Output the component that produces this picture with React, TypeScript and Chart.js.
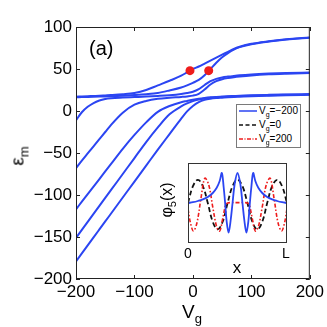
import React, { useEffect, useRef } from "react";
import { Chart, registerables } from "chart.js";

Chart.register(...registerables);

const FONT = '"Liberation Sans", Arial, Helvetica, sans-serif';

// Gate voltage grid (x values) shared by all energy levels
const vgGrid = [-200, -190, -180, -170, -160, -150, -140, -120, -100, -80, -60, -40, -20, -10, 0, 10, 20, 30, 40, 50, 60, 70, 80, 100, 130, 160, 200];

// Energy levels eps_m(Vg)
const levelA = [17, 17.3, 17.6, 17.9, 18.2, 18.6, 19, 20, 21.5, 25, 30.5, 36, 42, 46, 50, 53, 56.5, 60, 63.5, 67, 70.5, 74, 76.5, 80, 83, 85.3, 87.6];
const levelB = [16.4, 16.6, 16.8, 17.0, 17.2, 17.4, 17.6, 18.2, 19, 20, 21.5, 24.5, 28, 30.5, 33.5, 37, 42.5, 50, 57.5, 64, 69, 73, 76, 79.5, 82.6, 85, 87.2];
const levelC = [-11, -1.5, 5, 9.5, 12.5, 14.3, 15.2, 16, 16.6, 17.2, 17.9, 18.8, 20.3, 21.5, 23, 26, 31, 35.5, 38.3, 40, 41, 41.8, 42.5, 43.5, 44.5, 45.2, 45.9];
const levelD = [-68, -59, -50.5, -42, -33.5, -25, -16.5, -2, 7.5, 12, 14.5, 15.8, 16.8, 17.4, 18.3, 20.5, 25.5, 31.5, 35.5, 37.8, 39.2, 40.2, 41, 42.3, 43.6, 44.4, 45.2];
const levelE = [-117, -108, -99, -90, -81, -72, -63, -45, -28.5, -13.5, -1, 6, 10.5, 12, 13.5, 14.7, 15.6, 16.3, 16.8, 17.2, 17.6, 17.9, 18.2, 18.7, 19.2, 19.6, 20.1];
const levelF = [-151, -141.5, -132, -122.5, -113, -103.5, -94, -75, -56, -37, -19.5, -4, 5.5, 9, 11.8, 13.6, 14.9, 15.7, 16.3, 16.8, 17.2, 17.5, 17.8, 18.3, 18.8, 19.2, 19.6];
const levelG = [-179, -169.5, -160, -150.5, -141, -131.5, -122, -103, -84, -65, -46, -27.5, -9, -0.5, 6, 10.5, 13.2, 14.6, 15.4, 15.9, 16.4, 16.8, 17.1, 17.7, 18.3, 18.8, 19.2];

// Marked points (red dots)
const dotVg = [-5, 27];
const dotEps = [48, 48];

const xTickValues = [-200, -100, 0, 100, 200];
const yTickValues = [-200, -150, -100, -50, 0, 50, 100];

// Inset: phi_5(x), x in [0, L] with L = 1
const blueX = [0, 0.05, 0.1, 0.15, 0.2, 0.25, 0.29, 0.32, 0.342, 0.36, 0.375, 0.39, 0.41, 0.43, 0.45, 0.47, 0.5, 0.53, 0.55, 0.57, 0.59, 0.61, 0.625, 0.64, 0.658, 0.68, 0.71, 0.75, 0.8, 0.85, 0.9, 0.95, 1];
const blueY = [0, 0.02, 0.05, 0.09, 0.15, 0.25, 0.38, 0.55, 0.75, 0.4, 0, -0.45, -0.74, -0.45, 0, 0.45, 0.75, 0.45, 0, -0.45, -0.74, -0.45, 0, 0.4, 0.75, 0.55, 0.38, 0.25, 0.15, 0.09, 0.05, 0.02, 0];
const blackX = [0, 0.05, 0.1, 0.15, 0.2, 0.25, 0.3, 0.35, 0.4, 0.45, 0.5, 0.55, 0.6, 0.65, 0.7, 0.75, 0.8, 0.85, 0.9, 0.95, 1];
const blackY = [0, 0.42, 0.58, 0.42, 0, -0.47, -0.66, -0.47, 0, 0.42, 0.58, 0.42, 0, -0.47, -0.66, -0.47, 0, 0.42, 0.58, 0.42, 0];
const redX = [0, 0.025, 0.055, 0.09, 0.13, 0.17, 0.21, 0.25, 0.29, 0.32, 0.35, 0.38, 0.4, 0.45, 0.5, 0.55, 0.6, 0.62, 0.65, 0.68, 0.71, 0.75, 0.79, 0.83, 0.87, 0.91, 0.945, 0.975, 1];
const redY = [-0.15, -0.5, -0.7, -0.5, 0.1, 0.62, 0.45, -0.1, -0.6, -0.7, -0.4, -0.05, 0, 0.01, 0.01, 0.01, 0, -0.05, -0.4, -0.7, -0.6, -0.1, 0.45, 0.62, 0.1, -0.5, -0.7, -0.5, -0.15];

const legendVg = [-200, 0, 200];

const BLUE = "#2b45f2";
const RED = "#ee1c1c";
const BLACK = "#111111";

function fmt(v: number): string {
  return v < 0 ? "\u2212" + Math.abs(v) : String(v);
}

const frameTicks = {
  id: "frameTicks",
  afterDraw(chart: any, _args: any, opts: any) {
    const { ctx, chartArea: a, scales } = chart;
    ctx.save();
    ctx.strokeStyle = opts.color || "#222";
    ctx.lineWidth = 1;
    ctx.strokeRect(a.left + 0.5, a.top + 0.5, a.right - a.left - 1, a.bottom - a.top - 1);
    if (opts.ticks) {
      const L = 4;
      ctx.beginPath();
      for (const v of opts.xTicks) {
        const p = Math.round(scales.x.getPixelForValue(v)) + 0.5;
        ctx.moveTo(p, a.bottom);
        ctx.lineTo(p, a.bottom - L);
        ctx.moveTo(p, a.top);
        ctx.lineTo(p, a.top + L);
      }
      for (const v of opts.yTicks) {
        const p = Math.round(scales.y.getPixelForValue(v)) + 0.5;
        ctx.moveTo(a.left, p);
        ctx.lineTo(a.left + L, p);
        ctx.moveTo(a.right, p);
        ctx.lineTo(a.right - L, p);
      }
      ctx.stroke();
    }
    ctx.restore();
  },
};

export default function App() {
  const mainRef = useRef<HTMLCanvasElement>(null);
  const insetRef = useRef<HTMLCanvasElement>(null);

  useEffect(() => {
    const levels = [levelA, levelB, levelC, levelD, levelE, levelF, levelG];
    const lineSets = levels.map((arr) => ({
      data: vgGrid.map((x, i) => ({ x, y: arr[i] })),
      showLine: true,
      borderColor: BLUE,
      backgroundColor: BLUE,
      borderWidth: 2,
      pointRadius: 0,
      cubicInterpolationMode: "monotone" as const,
      fill: false,
      order: 1,
    }));
    const main = new Chart(mainRef.current!, {
      type: "scatter",
      data: {
        datasets: [
          {
            data: dotVg.map((x, i) => ({ x, y: dotEps[i] })),
            backgroundColor: RED,
            borderColor: RED,
            pointRadius: 4.5,
            borderWidth: 0,
            order: 0,
          },
          ...lineSets,
        ] as any,
      },
      options: {
        responsive: false,
        animation: false,
        devicePixelRatio: 1,
        events: [],
        layout: { padding: { top: 27, right: 17, left: 0, bottom: 0 } },
        plugins: {
          legend: { display: false },
          tooltip: { enabled: false },
          frameTicks: { ticks: true, xTicks: xTickValues, yTicks: yTickValues, color: "#222" },
        } as any,
        scales: {
          x: {
            type: "linear",
            min: -200,
            max: 200,
            afterBuildTicks: (s: any) => {
              s.ticks = xTickValues.map((value) => ({ value }));
            },
            afterFit: (s: any) => {
              s.height = 48;
            },
            ticks: {
              font: { size: 17, family: FONT },
              color: "#000",
              padding: 3,
              maxRotation: 0,
              autoSkip: false,
              callback: (v: any) => fmt(Number(v)),
            },
            grid: { display: false, drawTicks: false },
            border: { display: false },
          },
          y: {
            type: "linear",
            min: -200,
            max: 100,
            afterBuildTicks: (s: any) => {
              s.ticks = yTickValues.map((value) => ({ value }));
            },
            afterFit: (s: any) => {
              s.width = 76;
            },
            ticks: {
              font: { size: 17, family: FONT },
              color: "#000",
              padding: 4,
              autoSkip: false,
              callback: (v: any) => fmt(Number(v)),
            },
            grid: { display: false, drawTicks: false },
            border: { display: false },
          },
        },
      },
      plugins: [frameTicks as any],
    });

    const inset = new Chart(insetRef.current!, {
      type: "scatter",
      data: {
        datasets: [
          {
            data: blueX.map((x, i) => ({ x, y: blueY[i] })),
            showLine: true,
            borderColor: BLUE,
            borderWidth: 1.8,
            pointRadius: 0,
            tension: 0.35,
            order: 0,
          },
          {
            data: redX.map((x, i) => ({ x, y: redY[i] })),
            showLine: true,
            borderColor: RED,
            borderWidth: 1.6,
            borderDash: [4, 2, 1.5, 2],
            pointRadius: 0,
            tension: 0.35,
            order: 1,
          },
          {
            data: blackX.map((x, i) => ({ x, y: blackY[i] })),
            showLine: true,
            borderColor: BLACK,
            borderWidth: 1.8,
            borderDash: [5, 3],
            pointRadius: 0,
            tension: 0.4,
            order: 2,
          },
        ] as any,
      },
      options: {
        responsive: false,
        animation: false,
        devicePixelRatio: 1,
        events: [],
        layout: { padding: 0 },
        plugins: {
          legend: { display: false },
          tooltip: { enabled: false },
          frameTicks: { ticks: false, color: "#333" },
        } as any,
        scales: {
          x: { type: "linear", min: 0, max: 1, display: false },
          y: { type: "linear", min: -1, max: 1, display: false },
        },
      },
      plugins: [frameTicks as any],
    });

    return () => {
      main.destroy();
      inset.destroy();
    };
  }, []);

  const legendRows = [
    { color: BLUE, dash: undefined as string | undefined, label: fmt(legendVg[0]) },
    { color: BLACK, dash: "4 2.5", label: fmt(legendVg[1]) },
    { color: RED, dash: "4 1.5 1 1.5", label: fmt(legendVg[2]) },
  ];

  return (
    <div
      style={{
        position: "fixed",
        left: 0,
        top: 0,
        width: 327,
        height: 327,
        background: "#fff",
        overflow: "hidden",
        fontFamily: FONT,
        color: "#000",
      }}
    >
      <canvas ref={mainRef} width={327} height={327} style={{ position: "absolute", left: 0, top: 0 }} />

      {/* panel label */}
      <div style={{ position: "absolute", left: 89, top: 38, fontSize: 20, lineHeight: 1 }}>(a)</div>

      {/* y-axis title eps_m */}
      <div
        style={{
          position: "absolute",
          left: 17,
          top: 156,
          transform: "translate(-50%, -50%) rotate(-90deg)",
          fontSize: 19,
          lineHeight: 1,
          whiteSpace: "nowrap",
        }}
      >
        ε<span style={{ fontSize: 13, position: "relative", top: 5 }}>m</span>
      </div>

      {/* x-axis title V_g */}
      <div
        style={{
          position: "absolute",
          left: 192,
          top: 311,
          transform: "translate(-50%, -50%)",
          fontSize: 19,
          lineHeight: 1,
          whiteSpace: "nowrap",
        }}
      >
        V<span style={{ fontSize: 13, position: "relative", top: 5 }}>g</span>
      </div>

      {/* legend */}
      <div
        style={{
          position: "absolute",
          left: 236,
          top: 104,
          width: 63,
          height: 42,
          border: "1px solid #7a7a7a",
          background: "#fff",
        }}
      >
        {legendRows.map((r, i) => (
          <div
            key={i}
            style={{
              position: "absolute",
              left: 2,
              top: i * 14,
              height: 12,
              display: "flex",
              alignItems: "center",
              whiteSpace: "nowrap",
            }}
          >
            <svg width={18} height={4} style={{ display: "block" }}>
              <line x1={0} y1={2} x2={18} y2={2} stroke={r.color} strokeWidth={1.5} strokeDasharray={r.dash} />
            </svg>
            <span style={{ fontSize: 10, marginLeft: 2, lineHeight: 1 }}>
              V<span style={{ fontSize: 7, position: "relative", top: 3 }}>g</span>={r.label}
            </span>
          </div>
        ))}
      </div>

      {/* inset */}
      <canvas
        ref={insetRef}
        width={99}
        height={80}
        style={{ position: "absolute", left: 188, top: 163, background: "#fff" }}
      />
      <div style={{ position: "absolute", left: 188, top: 253, transform: "translate(-50%, -50%)", fontSize: 14, lineHeight: 1 }}>0</div>
      <div style={{ position: "absolute", left: 286, top: 253, transform: "translate(-50%, -50%)", fontSize: 14, lineHeight: 1 }}>L</div>
      <div style={{ position: "absolute", left: 237, top: 267, transform: "translate(-50%, -50%)", fontSize: 17, lineHeight: 1 }}>x</div>
      <div
        style={{
          position: "absolute",
          left: 167,
          top: 200,
          transform: "translate(-50%, -50%) rotate(-90deg)",
          fontSize: 16,
          lineHeight: 1,
          whiteSpace: "nowrap",
        }}
      >
        φ<span style={{ fontSize: 11, position: "relative", top: 4 }}>5</span>(x)
      </div>
    </div>
  );
}
